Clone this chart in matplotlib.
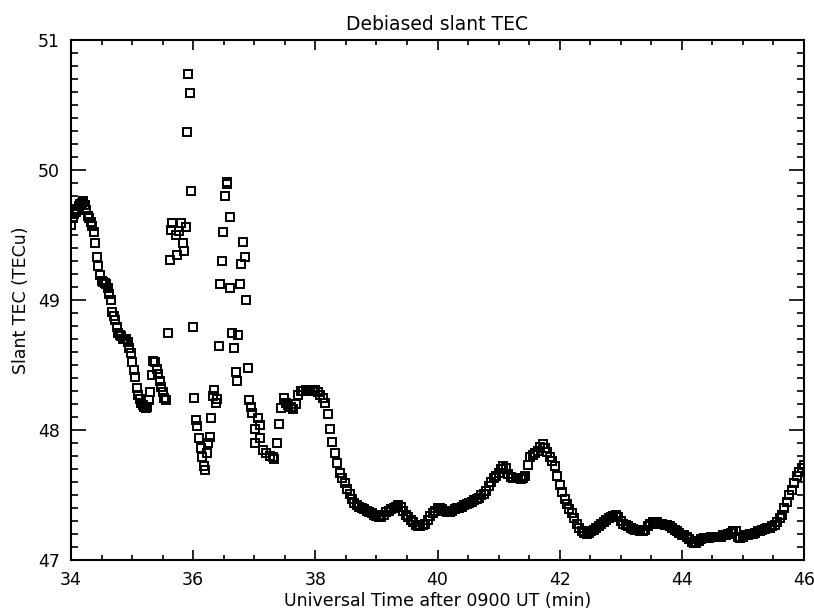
import numpy as np
import matplotlib.pyplot as plt
from matplotlib.ticker import MultipleLocator

# early continuous stretch, 34.000 - 35.550 min every 0.025 min
t0_early = 34.0
dt_early = 0.025
tec_early = [
    49.58, 49.63, 49.66, 49.68, 49.70, 49.72, 49.74, 49.75,
    49.76, 49.73, 49.69, 49.65, 49.63, 49.60, 49.57, 49.52,
    49.44, 49.33, 49.26, 49.19, 49.15, 49.14, 49.13, 49.12,
    49.09, 49.05, 49.00, 48.91, 48.88, 48.85, 48.79, 48.75,
    48.73, 48.72, 48.70, 48.70, 48.70, 48.68, 48.63, 48.59,
    48.52, 48.46, 48.41, 48.32, 48.27, 48.24, 48.21, 48.19,
    48.18, 48.17, 48.18, 48.23, 48.29, 48.42, 48.53, 48.52,
    48.47, 48.43, 48.38, 48.33, 48.29, 48.25, 48.23,
]

# scattered samples 35.6 - 37.4 min
scat_t = [35.59, 35.62, 35.63, 35.66, 35.72, 35.74, 35.77, 35.80, 35.83, 35.85,
          35.88, 35.90, 35.92, 35.95, 35.97, 36.00, 36.01, 36.04, 36.07, 36.10,
          36.13, 36.15, 36.18, 36.19, 36.22, 36.24, 36.28, 36.30, 36.32, 36.34,
          36.37, 36.39, 36.42, 36.44, 36.47, 36.49, 36.52, 36.55, 36.56, 36.60,
          36.61, 36.64, 36.67, 36.70, 36.72, 36.74, 36.77, 36.79, 36.82, 36.85,
          36.87, 36.90, 36.91, 36.94, 36.97, 37.01, 37.02, 37.06, 37.09, 37.10,
          37.15, 37.20, 37.25, 37.30, 37.32, 37.37]
scat_v = [48.75, 49.31, 49.54, 49.59, 49.50, 49.35, 49.53, 49.59, 49.44, 49.38,
          49.56, 50.29, 50.74, 50.59, 49.84, 48.79, 48.25, 48.08, 48.03, 47.94,
          47.86, 47.79, 47.72, 47.69, 47.82, 47.90, 47.95, 48.09, 48.26, 48.31,
          48.21, 48.24, 48.65, 49.12, 49.30, 49.52, 49.80, 49.89, 49.91, 49.64,
          49.09, 48.75, 48.63, 48.45, 48.38, 48.73, 49.12, 49.28, 49.45, 49.33,
          49.00, 48.48, 48.23, 48.18, 48.13, 48.01, 47.90, 48.09, 48.04, 47.94,
          47.85, 47.82, 47.80, 47.79, 47.78, 47.90]

# late continuous stretch, 37.40 - 46.00 min every 0.04 min
t0_late = 37.40
dt_late = 0.04
tec_late = [
    48.05, 48.17, 48.25, 48.21, 48.19, 48.18, 48.16, 48.20, 48.27, 48.30,
    48.30, 48.31, 48.31, 48.30, 48.31, 48.31, 48.29, 48.27, 48.25, 48.21,
    48.12, 48.01, 47.91, 47.82, 47.75, 47.67, 47.63, 47.59, 47.55, 47.51,
    47.47, 47.44, 47.42, 47.41, 47.40, 47.39, 47.38, 47.37, 47.36, 47.35,
    47.34, 47.33, 47.33, 47.35, 47.37, 47.38, 47.39, 47.40, 47.41, 47.42,
    47.41, 47.38, 47.35, 47.33, 47.31, 47.29, 47.27, 47.26, 47.26, 47.27,
    47.28, 47.31, 47.34, 47.36, 47.38, 47.40, 47.40, 47.39, 47.38, 47.37,
    47.37, 47.38, 47.39, 47.40, 47.40, 47.41, 47.42, 47.43, 47.44, 47.45,
    47.46, 47.47, 47.48, 47.50, 47.51, 47.53, 47.57, 47.60, 47.63, 47.65,
    47.67, 47.70, 47.72, 47.71, 47.66, 47.64, 47.63, 47.63, 47.63, 47.62,
    47.63, 47.65, 47.73, 47.79, 47.81, 47.82, 47.84, 47.87, 47.89, 47.86,
    47.83, 47.79, 47.76, 47.72, 47.65, 47.58, 47.52, 47.47, 47.43, 47.39,
    47.36, 47.32, 47.28, 47.25, 47.22, 47.21, 47.20, 47.21, 47.22, 47.23,
    47.25, 47.26, 47.28, 47.29, 47.31, 47.32, 47.33, 47.34, 47.35, 47.33,
    47.30, 47.28, 47.27, 47.26, 47.25, 47.24, 47.23, 47.23, 47.22, 47.22,
    47.23, 47.26, 47.28, 47.29, 47.29, 47.29, 47.28, 47.28, 47.27, 47.27,
    47.26, 47.25, 47.23, 47.22, 47.21, 47.19, 47.19, 47.18, 47.16, 47.14,
    47.13, 47.13, 47.15, 47.16, 47.17, 47.17, 47.17, 47.18, 47.18, 47.18,
    47.18, 47.18, 47.19, 47.19, 47.20, 47.21, 47.22, 47.22, 47.18, 47.17,
    47.18, 47.19, 47.19, 47.20, 47.20, 47.21, 47.22, 47.22, 47.23, 47.24,
    47.25, 47.25, 47.26, 47.27, 47.29, 47.32, 47.35, 47.40, 47.45, 47.50,
    47.54, 47.59, 47.65, 47.68, 47.71, 47.73,
]

t_early = t0_early + dt_early*np.arange(len(tec_early))
t_late = t0_late + dt_late*np.arange(len(tec_late))
t = np.concatenate([t_early, scat_t, t_late])
tec = np.concatenate([tec_early, scat_v, tec_late])

fig = plt.figure(figsize=(8.14, 6.14), dpi=100)
ax = fig.add_axes([71/814, 54/614, 733/814, 520/614])
ax.plot(t, tec, ls='none', marker='s', ms=5.3, mfc='none', mec='k', mew=1.4)

ax.set_xlim(34, 46)
ax.set_ylim(47, 51)
ax.xaxis.set_major_locator(MultipleLocator(2))
ax.xaxis.set_minor_locator(MultipleLocator(0.5))
ax.yaxis.set_major_locator(MultipleLocator(1))
ax.yaxis.set_minor_locator(MultipleLocator(0.1))
ax.tick_params(which='both', direction='in', top=True, right=True, width=1.2,
               labelsize=12.5, pad=8)
ax.tick_params(axis='x', which='major', length=7.5)
ax.tick_params(axis='x', which='minor', length=3.7)
ax.tick_params(axis='y', which='major', length=10.5)
ax.tick_params(axis='y', which='minor', length=5.2)
for s in ax.spines.values():
    s.set_linewidth(1.5)

ax.set_title('Debiased slant TEC', fontsize=13.5, pad=7)
ax.set_xlabel('Universal Time after 0900 UT (min)', fontsize=12.5, labelpad=2)
ax.set_ylabel('Slant TEC (TECu)', fontsize=12.5, labelpad=6)

fig.savefig('out.png', dpi=100)
